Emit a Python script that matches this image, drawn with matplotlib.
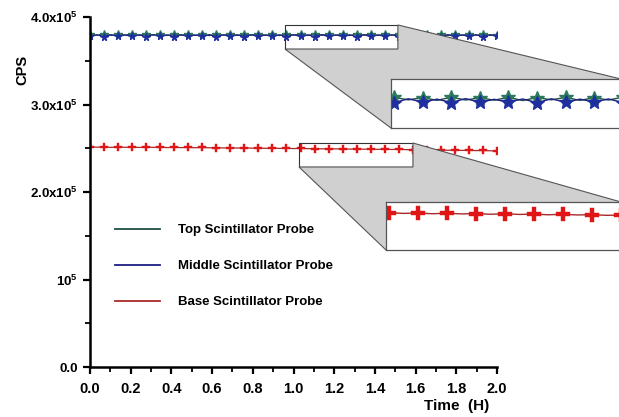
import numpy as np
import matplotlib
matplotlib.use("Agg")
import matplotlib.pyplot as plt
from matplotlib.patches import Polygon, Rectangle
from matplotlib.lines import Line2D
from matplotlib.ticker import MultipleLocator

plt.rcParams['font.family'] = ['Liberation Sans', 'DejaVu Sans']
plt.rcParams['mathtext.fontset'] = 'custom'
plt.rcParams['mathtext.rm'] = 'Liberation Sans:bold'
plt.rcParams['mathtext.it'] = 'Liberation Sans:bold'
plt.rcParams['mathtext.bf'] = 'Liberation Sans:bold'

# time in hours, one reading every ~2 min
time_h = np.linspace(0.0, 2.0, 59)

# counts per second, in units of 1e5
top_cps = [3.804, 3.791, 3.806, 3.789, 3.803, 3.793, 3.805, 3.790, 3.807, 3.792,
           3.804, 3.788, 3.806, 3.791, 3.805, 3.790, 3.806, 3.787, 3.804, 3.792,
           3.807, 3.789, 3.805, 3.791, 3.808, 3.790, 3.804, 3.788, 3.806, 3.792,
           3.805, 3.789, 3.807, 3.791, 3.804, 3.790, 3.806, 3.788, 3.805, 3.792,
           3.806, 3.789, 3.804, 3.791, 3.807, 3.790, 3.805, 3.788, 3.806, 3.792,
           3.804, 3.789, 3.806, 3.790, 3.805, 3.791, 3.803, 3.789, 3.800]
middle_cps = [3.779, 3.796, 3.777, 3.798, 3.780, 3.795, 3.778, 3.797, 3.776, 3.799,
              3.779, 3.796, 3.777, 3.798, 3.779, 3.795, 3.778, 3.799, 3.776, 3.796,
              3.779, 3.797, 3.777, 3.798, 3.778, 3.795, 3.780, 3.797, 3.776, 3.798,
              3.779, 3.796, 3.777, 3.799, 3.778, 3.795, 3.779, 3.797, 3.776, 3.798,
              3.778, 3.796, 3.780, 3.797, 3.777, 3.799, 3.778, 3.795, 3.779, 3.797,
              3.777, 3.798, 3.778, 3.796, 3.779, 3.797, 3.776, 3.798, 3.785]
base_cps = [2.516, 2.512, 2.515, 2.510, 2.514, 2.511, 2.513, 2.509, 2.513, 2.510,
            2.512, 2.508, 2.511, 2.507, 2.510, 2.506, 2.509, 2.505, 2.508, 2.503,
            2.506, 2.502, 2.505, 2.501, 2.503, 2.499, 2.502, 2.498, 2.500, 2.496,
            2.499, 2.495, 2.497, 2.493, 2.496, 2.492, 2.494, 2.490, 2.493, 2.489,
            2.491, 2.487, 2.490, 2.486, 2.488, 2.484, 2.485, 2.481, 2.483, 2.479,
            2.481, 2.477, 2.479, 2.475, 2.477, 2.473, 2.475, 2.471, 2.470]

labels = ["Top Scintillator Probe", "Middle Scintillator Probe", "Base Scintillator Probe"]
ytick_vals = [0, 1e5, 2e5, 3e5, 4e5]
ytick_labels = ["0.0", r"$10^5$", r"$2.0x10^5$", r"$3.0x10^5$", r"$4.0x10^5$"]

# zoom windows (x range in h, y range in cps)
zoom_top = ((0.958, 1.513), (3.634e5, 3.909e5))
zoom_base = ((1.027, 1.587), (2.286e5, 2.560e5))

top = np.array(top_cps) * 1e5
mid = np.array(middle_cps) * 1e5
base = np.array(base_cps) * 1e5

c_top_line, c_top_mk = "#1f4f45", "#2b7a5b"
c_mid_line, c_mid_mk = "#1a1f80", "#1f2f9f"
c_base_line, c_base_mk = "#a82a2a", "#e01515"

W, H = 619, 417
fig = plt.figure(figsize=(W / 100, H / 100), dpi=100)
ax = fig.add_axes([90 / W, 50 / H, 407 / W, 350 / H])


def draw_series(a, ms_star, ms_plus, lw):
    a.plot(time_h, top, color=c_top_line, lw=lw, marker="*", ms=ms_star, markevery=2,
           mfc=c_top_mk, mec=c_top_mk)
    a.plot(time_h, mid, color=c_mid_line, lw=lw, marker="*", ms=ms_star, markevery=2,
           mfc=c_mid_mk, mec=c_mid_mk)
    a.plot(time_h, base, color=c_base_line, lw=lw, marker="P", ms=ms_plus, markevery=2,
           mfc=c_base_mk, mec=c_base_mk, mew=0.3)


draw_series(ax, 5.5, 5.5, 0.9)

ax.set_xlim(0, 2.0)
ax.set_ylim(0, 4e5)
ax.xaxis.set_minor_locator(MultipleLocator(0.1))
ax.set_yticks(ytick_vals)
ax.yaxis.set_minor_locator(MultipleLocator(0.5e5))
ax.set_yticklabels(ytick_labels, fontsize=9.5, fontweight="bold")
xt = np.arange(0, 2.01, 0.2)
ax.set_xticks(xt)
ax.set_xticklabels([f"{v:.1f}" for v in xt], fontsize=10.5, fontweight="bold")
for s in ["top", "right"]:
    ax.spines[s].set_visible(False)
for s in ["left", "bottom"]:
    ax.spines[s].set_linewidth(1.8)
ax.tick_params(which="major", direction="out", length=5, width=1.6, pad=4)
ax.tick_params(axis="x", which="major", pad=6)
ax.tick_params(which="minor", direction="out", length=3.5, width=1.3)

ax.set_xlabel("Time  (H)", fontsize=11, fontweight="bold")
ax.xaxis.set_label_coords((457 - 90) / 407, -(399 - 367) / 350)
ax.set_ylabel("CPS", fontsize=10.5, fontweight="bold", va="center")
ax.yaxis.set_label_coords(-0.167, 0.85)

handles = [Line2D([], [], color=c_top_line, lw=1.3),
           Line2D([], [], color=c_mid_line, lw=1.3),
           Line2D([], [], color=c_base_line, lw=1.3)]
ax.legend(handles, labels, loc="upper left", bbox_to_anchor=(25 / 407, (367 - 224) / 350),
          frameon=False, prop={"weight": "bold", "size": 9.5}, handlelength=3.4,
          handletextpad=1.4, labelspacing=1.8, borderpad=0, borderaxespad=0)

inv = fig.transFigure.inverted()


def to_fig(x, y):
    return inv.transform(ax.transData.transform((x, y)))


def add_zoom(zoom, inset_rect):
    (x0, x1), (y0, y1) = zoom
    ax.add_patch(Rectangle((x0, y0), x1 - x0, y1 - y0, fill=False, ec="#333333", lw=0.8, zorder=5))
    ins = fig.add_axes(inset_rect)
    ins.set_zorder(3)
    draw_series(ins, 10, 10, 1.0)
    ins.set_xlim(x0, x1)
    ins.set_ylim(y0, y1)
    ins.set_xticks([])
    ins.set_yticks([])
    for s in ins.spines.values():
        s.set_color("#555555")
        s.set_linewidth(0.9)
    l, b, w, h = inset_rect
    verts = [to_fig(x0, y0), to_fig(x1, y0), to_fig(x1, y1), (l + w, b + h), (l, b)]
    fig.patches.append(Polygon(verts, closed=True, transform=fig.transFigure, fc="#d0d0d0",
                               ec="#555555", lw=0.8, zorder=1))


add_zoom(zoom_top, [391 / W, (H - 128) / H, 230 / W, 49 / H])
add_zoom(zoom_base, [386 / W, (H - 250) / H, 235 / W, 48 / H])

fig.savefig("out.png", dpi=100)
